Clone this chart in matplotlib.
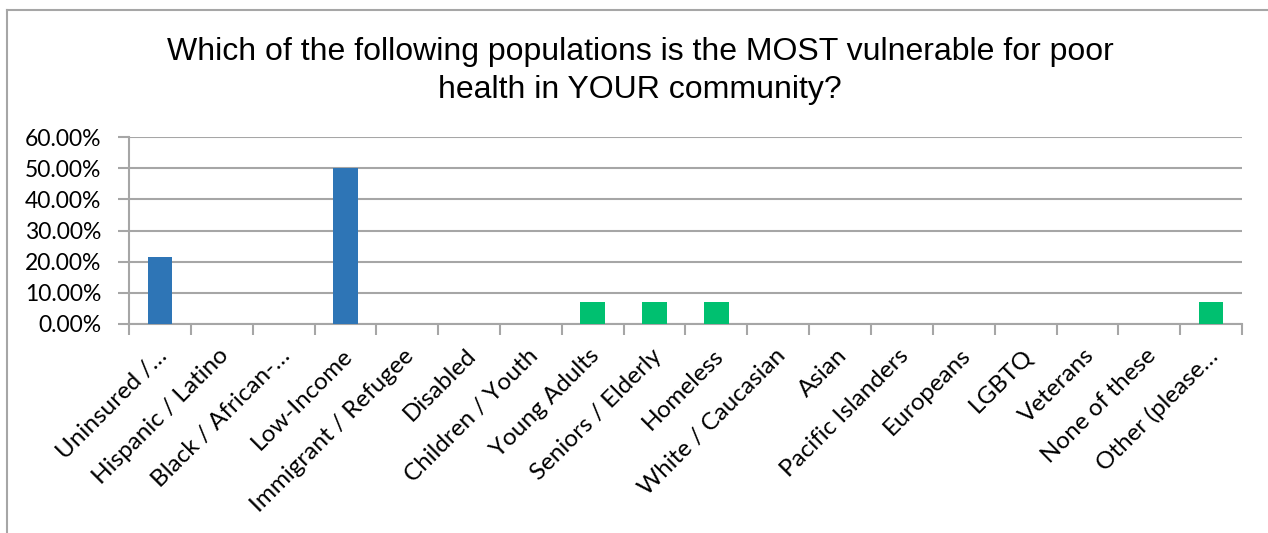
import matplotlib
matplotlib.use('Agg')
import matplotlib.pyplot as plt
import matplotlib.transforms as mtransforms
from matplotlib.lines import Line2D

categories = ['Uninsured /…', 'Hispanic / Latino', 'Black / African-…', 'Low-Income',
              'Immigrant / Refugee', 'Disabled', 'Children / Youth', 'Young Adults',
              'Seniors / Elderly', 'Homeless', 'White / Caucasian', 'Asian',
              'Pacific Islanders', 'Europeans', 'LGBTQ', 'Veterans', 'None of these',
              'Other (please…']
values = [21.43, 0, 0, 50.0, 0, 0, 0, 7.14, 7.14, 7.14, 0, 0, 0, 0, 0, 0, 0, 7.14]
yticks = [0, 10, 20, 30, 40, 50, 60]

blue = '#2E75B6'
green = '#00C070'
bar_colors = [blue] * 7 + [green] * 11

grey = '#A6A6A6'

fig = plt.figure(figsize=(12.68, 5.33), dpi=100)
ax = fig.add_axes([129 / 1268, 1 - 324 / 533, (1242 - 129) / 1268, (324 - 137) / 533])

x = list(range(len(categories)))
ax.bar(x, values, width=0.4, color=bar_colors, zorder=3)

ax.set_xlim(-0.5, len(categories) - 0.5)
ax.set_ylim(0, 60)
ax.set_yticks(yticks)
ax.set_yticklabels([f'{v:.2f}%' for v in yticks], fontfamily='Lato', fontsize=16.5)
ax.yaxis.grid(True, color=grey, linewidth=1.5, zorder=0)

# ticks between categories, labels at centres
ax.set_xticks([i - 0.5 for i in range(len(categories) + 1)])
ax.set_xticklabels([])
ax.set_xticks(x, minor=True)
ax.set_xticklabels(categories, minor=True, rotation=45, ha='right', va='top',
                   rotation_mode='anchor', fontfamily='Lato', fontsize=17.5)
ax.tick_params(axis='x', which='minor', length=0, pad=15)
ax.tick_params(axis='x', which='major', length=8, width=1.5, color=grey)
ax.tick_params(axis='y', length=8, width=1.5, color=grey, pad=12)

shift = mtransforms.ScaledTranslation(-4 / 100, 0, fig.dpi_scale_trans)
for lab in ax.get_xticklabels(minor=True):
    lab.set_transform(lab.get_transform() + shift)

for s in ['top', 'right']:
    ax.spines[s].set_visible(False)
for s in ['left', 'bottom']:
    ax.spines[s].set_color(grey)
    ax.spines[s].set_linewidth(1.5)

fig.text(0.505, 1 - 71 / 533, 'Which of the following populations is the MOST vulnerable for poor\nhealth in YOUR community?',
         ha='center', va='center', fontsize=23, fontfamily='Liberation Sans', linespacing=1.35)

# chart frame (top and left edges visible)
fig.add_artist(Line2D([7 / 1268, 1], [1 - 10 / 533, 1 - 10 / 533], color=grey, linewidth=1.5))
fig.add_artist(Line2D([7 / 1268, 7 / 1268], [0, 1 - 10 / 533], color=grey, linewidth=1.5))

fig.savefig('out.png', dpi=100)
